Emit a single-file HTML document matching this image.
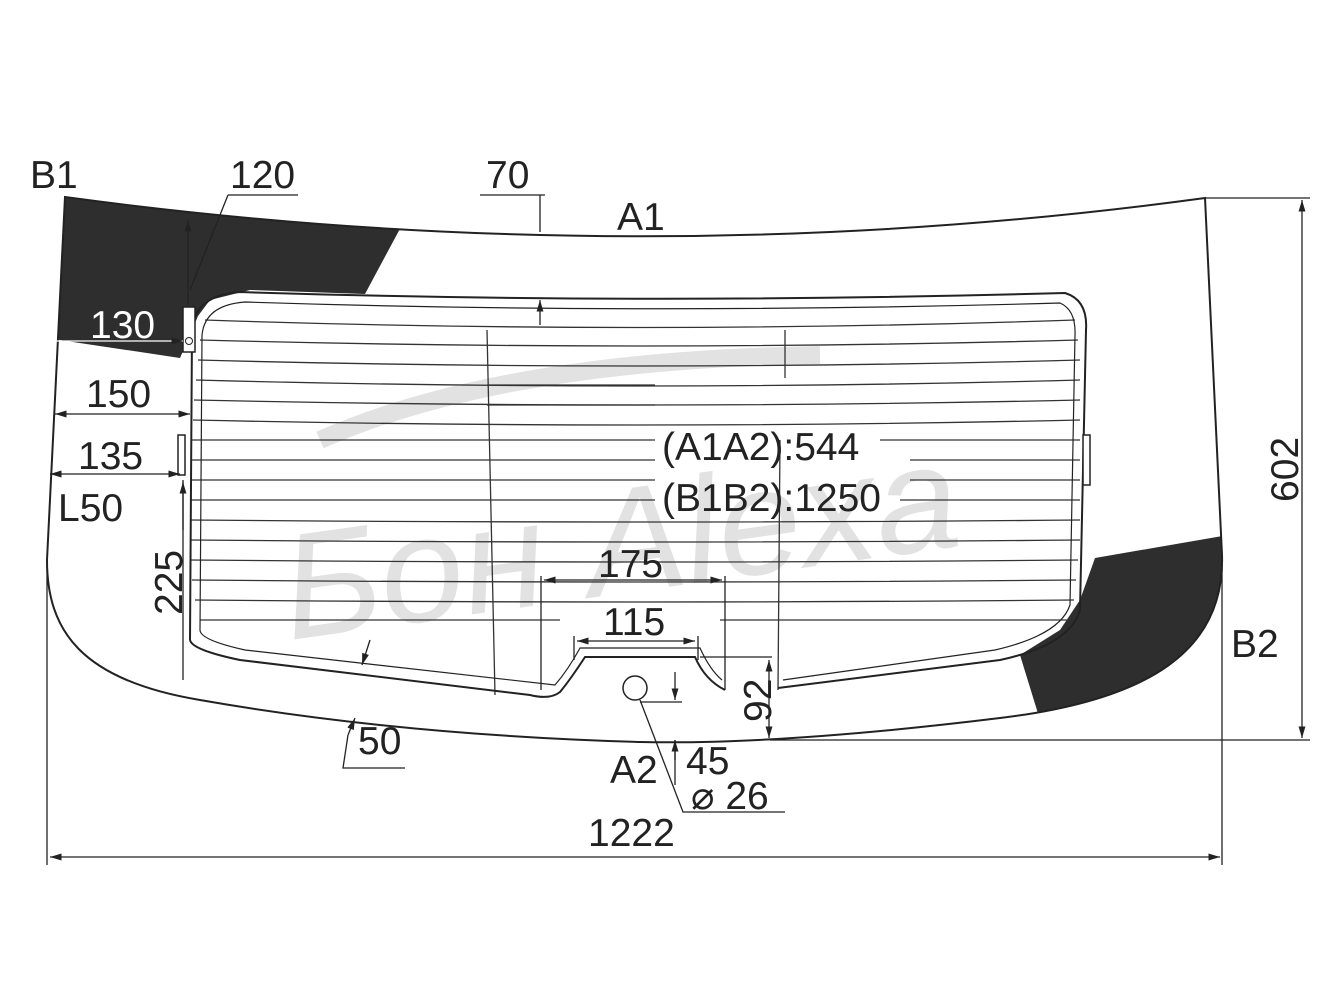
<!DOCTYPE html>
<html><head><meta charset="utf-8"><style>
html,body{margin:0;padding:0;background:#fff;}
svg{display:block;}
text{font-family:"Liberation Sans",sans-serif;fill:#222;}
</style></head><body>
<svg width="1333" height="1000" viewBox="0 0 1333 1000" xmlns="http://www.w3.org/2000/svg">
<defs>
<marker id="a" viewBox="0 0 10 10" refX="10" refY="5" markerWidth="9" markerHeight="9" orient="auto-start-reverse"><path d="M0,2 L10,5 L0,8 z" fill="#222"/></marker>
<clipPath id="g"><path d="M65,197 Q640,275 1205,198 L1222,555 C1225,650 1150,700 1000,718 Q780,745 640,742 Q400,735 200,700 C80,680 47,630 47,560 Z"/></clipPath>
</defs>
<rect width="1333" height="1000" fill="#fff"/>
<!-- watermark -->
<text x="290" y="640" font-size="150" font-style="italic" style="fill:#e2e2e2" transform="rotate(-8 290 640)">Бон Alexa</text>
<path d="M320,440 Q500,360 820,355" stroke="#e2e2e2" stroke-width="18" fill="none"/>
<!-- black areas -->
<g clip-path="url(#g)">
<polygon points="40,190 200,205 402,225 365,294 250,290 210,300 198,316 180,358 40,337" fill="#2e2e2e"/>
<polygon points="1240,533 1240,700 1040,720 1020,655 1060,630 1080,600 1095,558" fill="#2e2e2e"/>
</g>
<!-- outer glass -->
<path d="M65,197 Q640,275 1205,198 L1222,555 C1225,650 1150,700 1000,718 Q780,745 640,742 Q400,735 200,700 C80,680 47,630 47,560 Z" fill="none" stroke="#222" stroke-width="2"/>
<!-- heater lines -->
<g stroke="#333" stroke-width="1.3" fill="none">
<path d="M205,320 Q640,335 1075,320"/>
<path d="M200,340 Q640,352 1078,340"/>
<path d="M198,360 Q640,372 1080,360"/>
<path d="M196,380 Q640,392 1080,380"/>
<path d="M194,400 Q640,410 1080,400"/>
<path d="M193,420 Q640,430 1080,420"/>
<path d="M192,440 L655,440 M880,440 L1080,440"/>
<path d="M191,460 L655,460 M910,460 L1080,460"/>
<path d="M190,480 L655,480 M910,480 L1080,480"/>
<path d="M190,500 L655,500 M900,500 L1080,500"/>
<path d="M190,520 Q640,524 1080,520"/>
<path d="M190,540 Q640,544 1080,540"/>
<path d="M190,560 Q640,564 1078,560"/>
<path d="M192,580 Q640,584 1076,580"/>
<path d="M195,600 Q640,604 1074,600"/>
<path d="M200,620 L560,620 M720,620 L1070,620"/>
<path d="M487,330 L495,695"/>
<path d="M785,330 L785,378 M780,440 L778,690"/>
<path d="M487,385 L655,385 M487,405 L655,405"/>
</g>
<!-- frame -->
<g fill="none" stroke="#222" stroke-width="2">
<path d="M190,640 L192,330 Q195,295 240,292 Q640,305 1065,293 Q1088,300 1086,330 L1080,610 Q1070,645 1000,660 L778,688 M725,690 Q705,680 695,657 L585,657 Q570,680 560,692 Q550,700 530,695 L240,660 Q192,650 190,640"/>
<path d="M200,630 L202,335 Q205,305 245,302 Q640,315 1060,303 Q1076,310 1075,335 L1070,605 Q1060,635 995,650 L783,680 M722,680 Q710,670 700,648 L580,648 Q568,670 555,685 L245,650 Q200,640 200,630" stroke-width="1.2"/>
</g>
<!-- small clips -->
<rect x="183" y="307" width="12" height="45" fill="#fff" stroke="#222" stroke-width="1.5"/>
<circle cx="189" cy="341" r="3.5" fill="#fff" stroke="#222"/>
<rect x="178" y="435" width="7" height="40" fill="#fff" stroke="#222" stroke-width="1.5"/>
<rect x="1083" y="435" width="7" height="50" fill="#fff" stroke="#222" stroke-width="1.5"/>
<circle cx="635" cy="688" r="12" fill="#fff" stroke="#222" stroke-width="1.5"/>
<!-- dimension lines -->
<g stroke="#222" stroke-width="1.3" fill="none">
<path d="M1205,198 L1310,198 M770,740 L1310,740"/>
<path d="M1302,200 L1302,738" marker-start="url(#a)" marker-end="url(#a)"/>
<path d="M47,565 L47,865 M1222,560 L1222,865"/>
<path d="M50,857 L1220,857" marker-start="url(#a)" marker-end="url(#a)"/>
<path d="M228,195 L298,195 M228,195 L190,290"/>
<path d="M188,305 L188,220" marker-end="url(#a)"/>
<path d="M480,195 L545,195 M540,195 L540,232"/>
<path d="M540,300 L540,325" marker-start="url(#a)"/>
<path d="M55,341 L183,341" stroke="#fff" marker-end="url(#a)"/>
<path d="M55,414 L190,414" marker-start="url(#a)" marker-end="url(#a)"/>
<path d="M50,474 L180,474" marker-start="url(#a)" marker-end="url(#a)"/>
<path d="M183,480 L183,680"/>
<path d="M183,530 L183,482" marker-end="url(#a)"/>
<path d="M541,576 L541,690 M725,576 L725,690"/>
<path d="M544,580 L722,580" marker-start="url(#a)" marker-end="url(#a)"/>
<path d="M574,636 L574,660 M698,636 L698,660"/>
<path d="M577,641 L695,641" marker-start="url(#a)" marker-end="url(#a)"/>
<path d="M700,657 L772,657"/>
<path d="M769,660 L769,738" marker-start="url(#a)" marker-end="url(#a)"/>
<path d="M675,672 L675,700" marker-end="url(#a)"/>
<path d="M675,760 L675,740" marker-end="url(#a)"/>
<path d="M675,740 L675,785 M640,702 L682,702"/>
<path d="M640,700 L683,812 L785,812"/>
<path d="M370,640 L362,665" marker-end="url(#a)"/>
<path d="M355,718 L348,735" marker-start="url(#a)"/>
<path d="M348,735 L343,768 L405,768"/>
</g>
<!-- labels -->
<g font-size="39">
<text x="30" y="188">B1</text>
<text x="230" y="188">120</text>
<text x="486" y="188">70</text>
<text x="617" y="230">A1</text>
<text x="90" y="338" style="fill:#fff">130</text>
<text x="86" y="407">150</text>
<text x="78" y="469">135</text>
<text x="58" y="521">L50</text>
<text x="662" y="460">(A1A2):544</text>
<text x="662" y="511">(B1B2):1250</text>
<text x="598" y="577">175</text>
<text x="603" y="635">115</text>
<text x="358" y="754">50</text>
<text x="610" y="783">A2</text>
<text x="686" y="774">45</text>
<text x="691" y="809">⌀ 26</text>
<text x="588" y="846">1222</text>
<text x="1231" y="657">B2</text>
<text transform="translate(182,615) rotate(-90)">225</text>
<text transform="translate(771,722) rotate(-90)">92</text>
<text transform="translate(1298,502) rotate(-90)">602</text>
</g>
</svg>
</body></html>
